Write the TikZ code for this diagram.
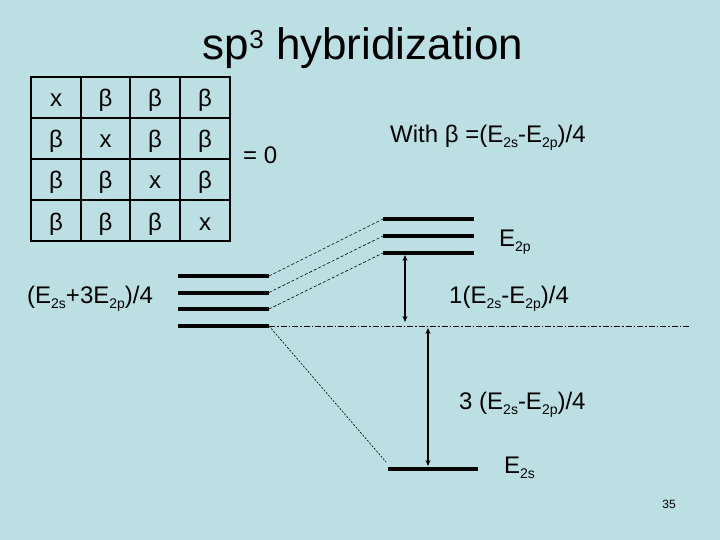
\documentclass[tikz,border=0pt]{standalone}
\usepackage{fontspec}
\setmainfont{Liberation Sans}
\usetikzlibrary{arrows.meta}
\definecolor{bg}{RGB}{187,223,227}
\newcommand{\sub}[1]{\raisebox{-5pt}{\fontsize{14}{16}\selectfont #1}}
\newcommand{\supthree}{\raisebox{11pt}{\fontsize{26}{28}\selectfont 3}}
\begin{document}
\begin{tikzpicture}[x=1pt,y=-1pt,
  txt/.style={font=\fontsize{24}{28}\selectfont, inner sep=0pt, anchor=base west},
  cell/.style={font=\fontsize{24}{28}\selectfont, inner sep=0pt, anchor=base},
  lvl/.style={line width=4pt},
  corr/.style={line width=0.6pt, dash pattern=on 3pt off 2pt},
  ref/.style={line width=0.6pt, dash pattern=on 6pt off 2pt on 1.5pt off 2pt},
  gap/.style={line width=1.3pt, {Stealth[length=6pt,width=5pt]}-{Stealth[length=6pt,width=5pt]}}]
\fill[bg] (0,0) rectangle (720,540);
\useasboundingbox (0,0) rectangle (720,540);

% title
\node[anchor=base, font=\fontsize{44}{50}\selectfont, inner sep=0pt] (title) at (363,60) {sp\supthree\ hybridization};

% determinant grid
\draw[line width=2pt] (31,77.5) rectangle (230,241);
\foreach \xx in {81,130,180} \draw[line width=2pt] (\xx,77.5) -- (\xx,241);
\foreach \yy in {118,159,200} \draw[line width=2pt] (31,\yy) -- (230,\yy);
\foreach \r/\yb in {1/107,2/148,3/189,4/230}
  \foreach \c/\xc in {1/56,2/105.5,3/155,4/205}
    {\ifnum\r=\c
       \node[cell] (c\r\c) at (\xc,\yb) {x};
     \else
       \node[cell] (c\r\c) at (\xc,\yb) {β};
     \fi}
\node[txt] (eq) at (243,164) {= 0};
\node[txt] (with) at (390,143) {With β =(E\sub{2s}-E\sub{2p})/4};

% levels
\foreach \i/\yy in {1/276,2/292.5,3/309,4/326}{
  \coordinate (L\i s) at (178,\yy); \coordinate (L\i e) at (269,\yy);
  \draw[lvl] (L\i s) -- (L\i e);}
\foreach \i/\yy in {1/219,2/236,3/253}{
  \coordinate (P\i s) at (383,\yy); \coordinate (P\i e) at (474,\yy);
  \draw[lvl] (P\i s) -- (P\i e);}
\coordinate (Ss) at (388,469); \coordinate (Se) at (478,469);
\draw[lvl] (Ss) -- (Se);

% correlation lines
\draw[corr] (L1e) -- (P1s);
\draw[corr] (L2e) -- (P2s);
\draw[corr] (L3e) -- (P3s);
\coordinate (Sc) at (386,462);
\draw[corr, dash pattern=on 2pt off 1.5pt] (L4e) -- (Sc);
\coordinate (R) at (690,326);
\draw[ref] (L4e) -- (R);

% gap arrows
\coordinate (a1t) at (405,255); \coordinate (a1b) at (405,322);
\draw[gap] (a1t) -- (a1b);
\coordinate (a2t) at (428,328); \coordinate (a2b) at (428,466);
\draw[gap] (a2t) -- (a2b);

% labels
\node[txt] (lE2p) at (499,247) {E\sub{2p}};
\node[txt] (l1) at (449,303) {1(E\sub{2s}-E\sub{2p})/4};
\node[txt] (l3) at (459,409) {3 (E\sub{2s}-E\sub{2p})/4};
\node[txt] (lE2s) at (504,473) {E\sub{2s}};
\node[txt] (lavg) at (27,303) {(E\sub{2s}+3E\sub{2p})/4};
\node[anchor=base, font=\fontsize{12}{14}\selectfont, inner sep=0pt] (pg) at (669,508) {35};
\end{tikzpicture}
\end{document}
